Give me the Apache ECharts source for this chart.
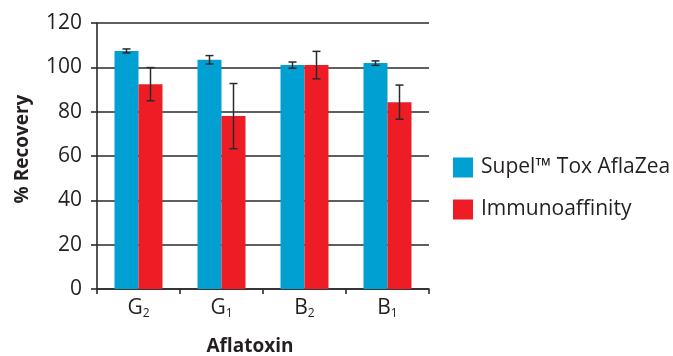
<!DOCTYPE html>
<html><head><meta charset="utf-8">
<script src="https://cdn.jsdelivr.net/npm/echarts@6/dist/echarts.min.js"></script>
<style>html,body{margin:0;padding:0;background:#fff}#c{width:673px;height:356px}</style>
</head><body><div id="c"></div>
<script>
const categories = ['G2', 'G1', 'B2', 'B1'];
const catLabels = ['{a|G}{s|2}', '{a|G}{s|1}', '{a|B}{s|2}', '{a|B}{s|1}'];
const supelValues = [107.4, 103.4, 101.0, 101.9];
const supelErrors = [0.9, 1.9, 1.4, 1.0];
const immunoValues = [92.4, 78.0, 101.0, 84.3];
const immunoErrors = [7.5, 14.7, 6.2, 7.7];
const seriesNames = ['Supel™ Tox AflaZea', 'Immunoaffinity'];
const yTicks = [0, 20, 40, 60, 80, 100, 120];

const FONT = '"Open Sans", sans-serif';
const TXT = '#231f20';
const BAR_W = 24;
const chart = echarts.init(document.getElementById('c'));

function errSeries(vals, errs, side) {
  return {
    type: 'custom',
    silent: true,
    z: 5,
    data: vals.map((v, i) => [i, v, errs[i]]),
    renderItem: function (params, api) {
      const i = api.value(0), v = api.value(1), e = api.value(2);
      const hi = api.coord([i, v + e]);
      const lo = api.coord([i, v - e]);
      const x = hi[0] + side * BAR_W / 2;
      const cw = 4;
      const st = { stroke: '#2a2a2a', lineWidth: 1.5 };
      return {
        type: 'group',
        children: [
          { type: 'line', shape: { x1: x, y1: hi[1], x2: x, y2: lo[1] }, style: st },
          { type: 'line', shape: { x1: x - cw, y1: hi[1], x2: x + cw, y2: hi[1] }, style: st },
          { type: 'line', shape: { x1: x - cw, y1: lo[1], x2: x + cw, y2: lo[1] }, style: st }
        ]
      };
    }
  };
}

chart.setOption({
  animation: false,
  textStyle: { fontFamily: FONT },
  grid: { left: 97, right: 244, top: 23, bottom: 67, containLabel: false },
  legend: {
    orient: 'vertical', left: 453, top: 157, padding: 0,
    itemWidth: 20, itemHeight: 20, itemGap: 21, icon: 'rect',
    data: seriesNames,
    textStyle: { fontSize: 21, color: TXT, fontFamily: FONT, padding: [0, 0, 0, 3] }
  },
  xAxis: {
    type: 'category',
    data: categories,
    axisLine: { lineStyle: { color: '#2a2a2a', width: 1.6 } },
    axisTick: { show: true, length: 5, lineStyle: { color: '#2a2a2a', width: 1.6 } },
    axisLabel: {
      margin: 7,
      formatter: function (v, idx) { return catLabels[idx]; },
      rich: {
        a: { fontSize: 21, color: TXT, fontFamily: FONT, lineHeight: 24, verticalAlign: 'middle' },
        s: { fontSize: 12, color: TXT, fontFamily: FONT, lineHeight: 24, verticalAlign: 'bottom' }
      }
    }
  },
  yAxis: {
    type: 'value', min: 0, max: 120, interval: 20,
    axisLine: { show: true, lineStyle: { color: '#2a2a2a', width: 1.6 } },
    axisTick: { show: true, length: 6, lineStyle: { color: '#2a2a2a', width: 1.6 } },
    splitLine: { show: true, lineStyle: { color: '#2a2a2a', width: 1.6 } },
    axisLabel: {
      margin: 15, fontSize: 21, color: TXT, fontFamily: FONT,
      formatter: function (v) { return yTicks.indexOf(v) >= 0 ? String(v) : ''; }
    }
  },
  graphic: [
    { type: 'text', x: 250, y: 347, style: { text: 'Aflatoxin', font: 'bold 19px ' + FONT, fill: TXT, align: 'center', verticalAlign: 'middle' } },
    { type: 'text', x: 23, y: 149, rotation: Math.PI / 2, style: { text: '% Recovery', font: 'bold 19px ' + FONT, fill: TXT, align: 'center', verticalAlign: 'middle' } }
  ],
  series: [
    { name: seriesNames[0], type: 'bar', data: supelValues, barWidth: BAR_W, barGap: '0%',
      itemStyle: { color: '#00a0d2' } },
    { name: seriesNames[1], type: 'bar', data: immunoValues, barWidth: BAR_W, barGap: '0%',
      itemStyle: { color: '#ee1c25' } },
    errSeries(supelValues, supelErrors, -1),
    errSeries(immunoValues, immunoErrors, 1)
  ]
});
</script></body></html>
